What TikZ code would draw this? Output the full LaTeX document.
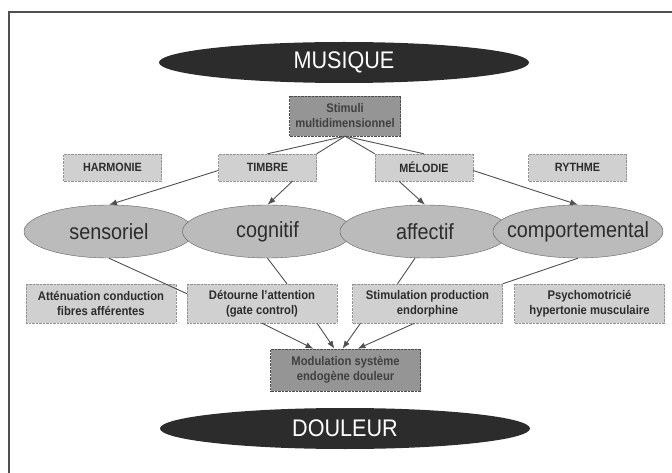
\documentclass[tikz,border=0pt]{standalone}
\usepackage{fontspec}
\setmainfont{Liberation Sans}[FakeStretch=0.9]
\usepackage{tikz}
\usetikzlibrary{calc,arrows.meta,shapes.geometric}
\usepackage{xcolor}
\definecolor{inkgray}{HTML}{2C2C2C}
\definecolor{boxgray}{HTML}{D0D0D0}
\definecolor{darkbox}{HTML}{959595}
\definecolor{ellgray}{HTML}{BBBBBB}
\definecolor{linegray}{HTML}{505050}

\begin{document}
\begin{tikzpicture}[x=1pt,y=-1pt,
    bigell/.style={ellipse,fill=inkgray,text=white,inner sep=0pt,minimum width=370pt,minimum height=41pt,font=\fontsize{24}{26}\selectfont},
    feel/.style={ellipse,draw=gray!75!black,fill=ellgray,inner sep=0pt,minimum width=170pt,minimum height=53pt,text=inkgray,font=\fontsize{22}{24}\selectfont},
    lbox/.style={rectangle,draw=gray!85,densely dotted,fill=boxgray,inner sep=0pt,align=center,text=inkgray},
    tbox/.style={lbox,minimum width=98pt,minimum height=27pt,font=\fontsize{12}{14}\selectfont\bfseries},
    wbox/.style={lbox,minimum width=150pt,minimum height=39pt,font=\fontsize{12.5}{15}\selectfont\bfseries},
    dbox/.style={wbox,fill=darkbox,draw=gray!60!black,text=black!75},
    conn/.style={draw=linegray,line width=0.9pt},
    arr/.style={conn,-{Latex[length=8pt,width=6pt]}}]
\useasboundingbox (0,0) rectangle (672,473);
\draw[linegray,line width=1.3pt] (9,473) -- (9,12) -- (672,12);

\node[bigell] (mus) at (344,62.5) {MUSIQUE};
\node[dbox,minimum width=111pt,minimum height=40pt] (stim) at (345,116) {Stimuli\\multidimensionnel};

\node[tbox] (harm) at (112.5,167.5) {HARMONIE};
\node[tbox] (timb) at (267.5,167.5) {TIMBRE};
\node[tbox] (melo) at (424,167.5) {MÉLODIE};
\node[tbox] (ryth) at (577.5,167.5) {RYTHME};

\node[feel] (sens) at (109,231.5) {\makebox[0pt]{sensoriel}};
\node[feel] (cogn) at (267.5,231.5) {\makebox[0pt]{cognitif}};
\node[feel] (affe) at (425,231.5) {\makebox[0pt]{affectif}};
\node[feel] (comp) at (578,231.5) {\makebox[0pt]{comportemental}};

\node[wbox] (atte) at (101,303.5) {Atténuation conduction\\fibres afférentes};
\node[wbox] (deto) at (262,303.5) {Détourne l'attention\\(gate control)};
\node[wbox] (stimu) at (427.5,303.5) {Stimulation production\\endorphine};
\node[wbox] (psy) at (589.5,303.5) {Psychomotricié\\hypertonie musculaire};

\node[dbox,minimum height=42pt] (modu) at (345.5,370) {Modulation système\\endogène douleur};
\node[bigell] (doul) at (345,428.5) {DOULEUR};

\draw[conn] (stim.south) -- (timb.north);
\draw[conn] (stim.south) -- (timb.north east);
\draw[conn] (stim.south) -- (melo.north west);
\draw[conn] (stim.south) -- (melo.north);

\draw[arr] ([yshift=-3pt]timb.west) -- (sens.north);
\draw[arr] ([xshift=25pt]timb.south) -- (cogn.north);
\draw[arr] ([xshift=-25pt]melo.south) -- (affe.north);
\draw[arr] ([yshift=-3pt]melo.east) -- (comp.north);

\draw[conn] (sens.south) -- ($(deto.north west)!0.25!(deto.south west)$);
\draw[conn] (cogn.south) -- ([xshift=25pt]deto.north);
\draw[conn] ([xshift=-10pt]affe.south) -- ([xshift=-30pt]stimu.north);
\draw[conn] (comp.south) -- (stimu.north east);

\draw[arr] (deto.south) -- ([xshift=-32pt]modu.north);
\draw[arr] ([xshift=55pt]deto.south) -- ([xshift=-11pt]modu.north);
\draw[arr] ([xshift=-67pt]stimu.south) -- ([xshift=-3pt]modu.north);
\draw[arr] ([xshift=-13pt]stimu.south) -- ([xshift=12pt]modu.north);
\end{tikzpicture}
\end{document}
